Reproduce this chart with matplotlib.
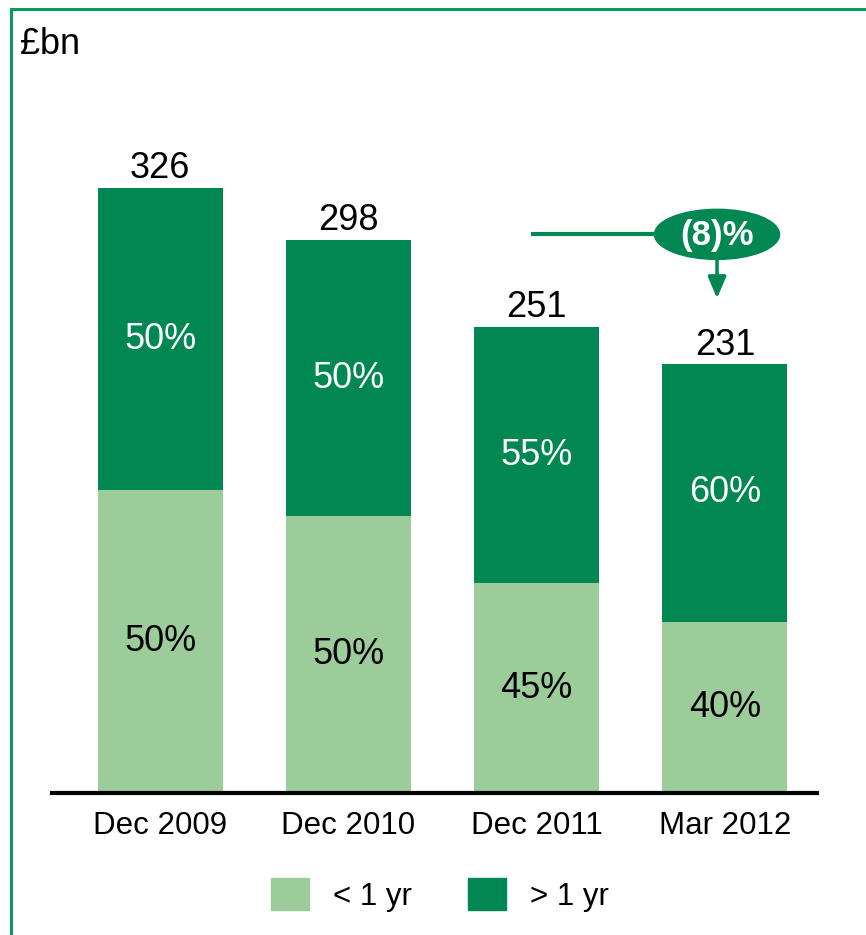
import matplotlib
matplotlib.use('Agg')
import matplotlib.pyplot as plt
from matplotlib.patches import Ellipse, Rectangle, Patch

plt.rcParams['font.family'] = ['Liberation Sans', 'DejaVu Sans']

# data
periods = ['Dec 2009', 'Dec 2010', 'Dec 2011', 'Mar 2012']
totals = [326, 298, 251, 231]
short_pct = [50, 50, 45, 40]   # < 1 yr share
long_pct = [50, 50, 55, 60]    # > 1 yr share
change_label = '(8)%'

light = '#9BCC9A'
dark = '#008752'
frame = '#0E9A5A'

short_vals = [t * p / 100 for t, p in zip(totals, short_pct)]
long_vals = [t * p / 100 for t, p in zip(totals, long_pct)]

W, H = 866, 935
fig = plt.figure(figsize=(W / 100, H / 100), dpi=100)
ax = fig.add_axes([52 / W, 1 - 793 / H, (817 - 52) / W, (793 - 100) / H])

x = list(range(len(periods)))
ax.bar(x, short_vals, width=0.664, color=light, label='< 1 yr')
ax.bar(x, long_vals, width=0.664, bottom=short_vals, color=dark, label='> 1 yr')

ax.set_xlim(-0.574, 3.489)
ax.set_ylim(0, 373.4)

for i in x:
    ax.annotate(str(totals[i]), (i, totals[i]), xytext=(0, 7), textcoords='offset points',
                ha='center', va='baseline', fontsize=26)
    ax.text(i, short_vals[i] / 2, f'{short_pct[i]}%', ha='center', va='center', fontsize=26)
    ax.text(i, short_vals[i] + long_vals[i] / 2, f'{long_pct[i]}%', ha='center', va='center',
            fontsize=26, color='white')

# change callout
ax.plot([1.97, 2.65], [301, 301], color=dark, lw=3, solid_capstyle='butt')
ax.add_patch(Ellipse((2.958, 301), 0.664, 27, color=dark, zorder=3))
ax.text(2.958, 300.5, change_label, ha='center', va='center', fontsize=25, fontweight='bold',
        color='white', zorder=4)
ax.annotate('', xy=(2.958, 266.5), xytext=(2.958, 288),
            arrowprops=dict(arrowstyle='-|>,head_width=0.55,head_length=1.3', color=dark, lw=2.5,
                            shrinkA=0, shrinkB=0))

ax.set_xticks(x)
ax.set_xticklabels(periods, fontsize=22.5)
ax.tick_params(axis='x', length=0, pad=13)
ax.set_yticks([])
for s in ['left', 'right', 'top']:
    ax.spines[s].set_visible(False)
ax.spines['bottom'].set_linewidth(3)
ax.spines['bottom'].set_color('black')

fig.text(20 / W, 1 - 45 / H, '£bn', fontsize=26, ha='left', va='center')

handles = [Patch(color=light), Patch(color=dark)]
fig.legend(handles, ['< 1 yr', '> 1 yr'], loc='center', bbox_to_anchor=(440 / W, 1 - 895 / H),
           ncol=2, frameon=False, fontsize=22.5, handlelength=1.22, handleheight=1.16,
           handletextpad=0.77, columnspacing=1.8)

fig.patches.append(Rectangle((11 / W, -0.1), 1.2, 1 - 9 / H + 0.1, transform=fig.transFigure,
                             fill=False, ec=frame, lw=2.2))

fig.savefig('out.png', dpi=100)
